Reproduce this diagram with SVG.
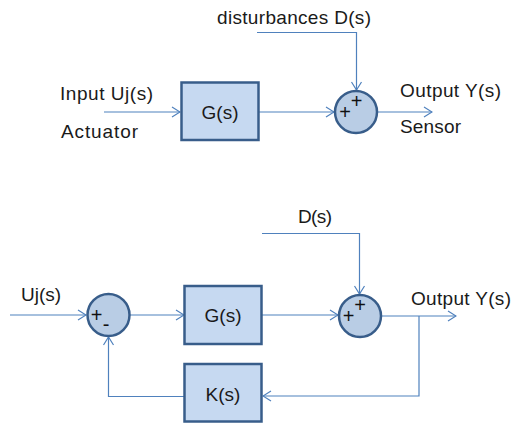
<svg xmlns="http://www.w3.org/2000/svg" width="532" height="423" viewBox="0 0 532 423">
<defs>
<marker id="arr" markerWidth="10" markerHeight="12" refX="9" refY="6" orient="auto" markerUnits="userSpaceOnUse">
<path d="M1,1 L9,6 L1,11" fill="none" stroke="#4f81bd" stroke-width="1.2"/>
</marker>
<style>
.lbl{font-family:"Liberation Sans",Arial,sans-serif;font-size:19px;fill:#1a1a1a}
.sgn{font-family:"Liberation Sans",Arial,sans-serif;font-size:20px;fill:#111}
.box{fill:#c6d9f1;stroke:#385d8a;stroke-width:2.5}
.sum{fill:#b9cde5;stroke:#385d8a;stroke-width:2.5}
.cn{fill:none;stroke:#4f81bd;stroke-width:1.2}
</style>
</defs>
<rect width="532" height="423" fill="#fff"/>
<g id="connectors">
<path class="cn" d="M104,112 H180" marker-end="url(#arr)"/>
<path class="cn" d="M259,112 H334" marker-end="url(#arr)"/>
<path class="cn" d="M257,32.5 H356.5 V90" marker-end="url(#arr)"/>
<path class="cn" d="M377,112 H432" marker-end="url(#arr)"/>
<path class="cn" d="M10,315 H86" marker-end="url(#arr)"/>
<path class="cn" d="M130,315 H184" marker-end="url(#arr)"/>
<path class="cn" d="M262,315 H338" marker-end="url(#arr)"/>
<path class="cn" d="M262,233.5 H359.5 V294" marker-end="url(#arr)"/>
<path class="cn" d="M381,316 H456" marker-end="url(#arr)"/>
<path class="cn" d="M419,316 V396 H263" marker-end="url(#arr)"/>
<path class="cn" d="M184,396.5 H108.5 V337" marker-end="url(#arr)"/>
</g>
<g id="top-labels">
<text class="lbl" x="217" y="24" textLength="154" lengthAdjust="spacing">disturbances D(s)</text>
<text class="lbl" x="60" y="100" textLength="93" lengthAdjust="spacing">Input Uj(s)</text>
<text class="lbl" x="61" y="138" textLength="77" lengthAdjust="spacing">Actuator</text>
<text class="lbl" x="400" y="97" textLength="101" lengthAdjust="spacing">Output Y(s)</text>
<text class="lbl" x="400" y="133" textLength="61" lengthAdjust="spacing">Sensor</text>
</g>
<g id="G1">
<rect class="box" x="181.5" y="82.5" width="77" height="57.5"/>
<text class="lbl" x="220" y="119" text-anchor="middle">G(s)</text>
</g>
<g id="S1">
<circle class="sum" cx="356" cy="112" r="21"/>
<text class="sgn" x="345" y="119" text-anchor="middle">+</text>
<text class="sgn" x="356.5" y="108" text-anchor="middle">+</text>
</g>
<g id="bottom-labels">
<text class="lbl" x="21" y="301" textLength="40" lengthAdjust="spacing">Uj(s)</text>
<text class="lbl" x="298" y="223" textLength="34" lengthAdjust="spacing">D(s)</text>
<text class="lbl" x="411" y="305" textLength="100" lengthAdjust="spacing">Output Y(s)</text>
</g>
<g id="S2">
<circle class="sum" cx="108.5" cy="315" r="21"/>
<text class="sgn" x="96.5" y="322" text-anchor="middle">+</text>
<text class="sgn" x="106" y="331" text-anchor="middle" font-size="16">-</text>
</g>
<g id="G2">
<rect class="box" x="184.5" y="286" width="77" height="58"/>
<text class="lbl" x="223" y="322" text-anchor="middle">G(s)</text>
</g>
<g id="S3">
<circle class="sum" cx="360" cy="316" r="21"/>
<text class="sgn" x="348.5" y="323" text-anchor="middle">+</text>
<text class="sgn" x="360" y="312" text-anchor="middle">+</text>
</g>
<g id="K">
<rect class="box" x="184.5" y="364" width="77" height="57.5"/>
<text class="lbl" x="223" y="401" text-anchor="middle">K(s)</text>
</g>
</svg>
